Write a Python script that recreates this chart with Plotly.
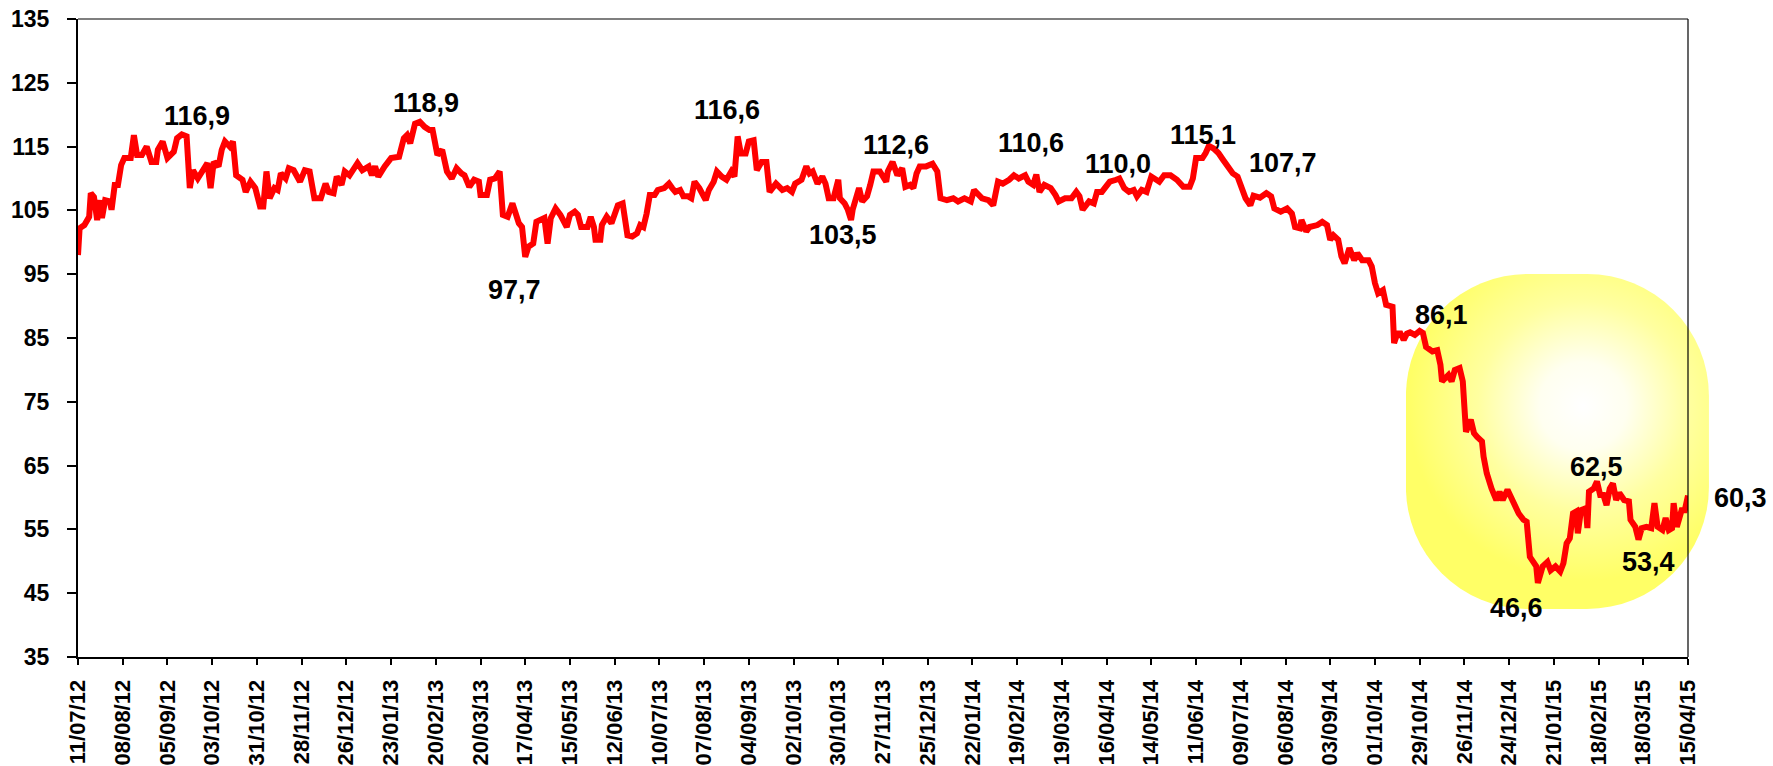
import base64
import pandas as pd
import plotly.graph_objects as go

# Brent crude (USD/bbl).
# day = calendar days counted from 11/07/2012, the first tick
START = pd.Timestamp("2012-07-11")

days = [
    0, 1, 4, 7, 8, 10, 12, 14, 15, 17, 20, 21, 23, 25, 27, 29, 33, 35, 37, 40,
    43, 46, 49, 50, 53, 56, 60, 62, 65, 68, 70, 72, 75, 79, 81, 83, 85, 88, 90, 92,
    95, 97, 99, 103, 105, 108, 111, 114, 116, 118, 120, 123, 125, 127, 130, 132, 135, 139, 142, 145,
    148, 152, 155, 157, 160, 162, 165, 167, 170, 175, 178, 182, 184, 186, 188, 192, 196, 201, 204, 206,
    208, 211, 214, 217, 220,
    222, 225, 228, 231, 234, 237, 240, 242, 245, 248, 251, 252, 256, 258, 261, 264, 266, 269, 272, 274,
    276, 278, 280, 282, 285, 287, 290, 292, 294, 296, 299, 302, 306, 308, 311, 313, 315, 319, 321, 323,
    324, 327, 328, 331, 334, 336, 338, 341, 344, 347, 350, 352, 354, 356, 358, 361, 363, 367, 370, 372,
    374, 377, 379, 382, 384, 386, 389, 393, 395, 398, 400, 403, 406, 409, 411, 413, 415, 418, 420, 423,
    425, 428, 431, 433,
    434, 437, 441, 444, 447, 449, 453, 456, 458, 460, 463, 466, 468, 470, 473, 476, 477, 480, 482, 484,
    485, 489, 491, 494, 496, 498, 502, 506, 507, 510, 513, 516, 518, 521, 523, 525, 527, 531, 535, 538,
    540, 544, 548, 551, 555, 559, 561, 564, 566, 570, 573, 576, 579, 583, 586, 589, 593, 595, 598, 600,
    602, 605, 609, 612, 614, 618, 622, 625, 627, 629, 633, 636, 638, 641, 645,
    646, 650, 652, 655, 658, 661, 663, 666, 669, 672, 674, 677, 680, 684, 688, 692, 696, 698, 700, 704,
    706, 708, 711, 714, 717, 720, 723, 726, 729, 731, 734, 736, 740, 742, 744, 747, 749, 753, 757, 760,
    762, 765, 766, 769, 771, 776, 779, 782, 784, 786, 789, 791, 793, 796, 799, 801, 804, 808, 810, 812,
    814, 817, 819, 823, 824, 826,
    828, 830, 832, 834, 837, 840, 842, 844, 848, 851, 853, 854, 858, 860, 862, 865, 867, 868, 869, 872,
    874, 876, 879, 880, 882, 885, 888, 890, 892, 895, 898, 900, 902, 905, 907, 909, 911, 913, 914, 917,
    920, 922, 925, 928, 930, 932, 934, 936, 938, 939, 941, 944, 945, 946, 949, 951, 953, 955, 957, 959,
    961, 963, 965, 968, 971, 972, 975, 977, 979, 982, 985, 987, 989, 992, 994, 996, 998, 999, 1001, 1004,
    1006, 1008,
]

brent = [
    98.0, 102.2, 102.7, 104.0, 107.7, 107.1, 103.5, 106.6, 103.8, 106.6, 106.4, 105.1, 109.0, 109.0, 112.1, 113.2, 113.2, 116.8, 113.7, 113.7,
    115.0, 112.6, 112.6, 114.5, 115.8, 113.2, 114.2, 116.3, 116.9, 116.6, 108.5, 111.3, 110.0, 111.9, 112.4, 108.5, 112.6, 111.9, 114.5, 115.8,
    115.0, 115.8, 110.5, 109.8, 107.9, 109.5, 108.5, 105.6, 105.6, 111.1, 106.9, 108.5, 108.2, 110.8, 110.0, 111.6, 111.3, 109.5, 111.3, 111.1,
    106.9, 106.9, 109.2, 107.9, 107.7, 110.3, 109.0, 111.1, 110.5, 112.4, 111.3, 111.9, 110.5, 111.9, 110.3, 111.9, 113.2, 113.4, 116.3, 116.8,
    115.5, 118.6, 118.9, 118.1, 117.6,
    117.6, 113.7, 114.5, 111.1, 110.0, 111.6, 110.8, 110.5, 108.7, 109.8, 109.5, 107.4, 107.4, 109.8, 110.0, 111.1, 104.3, 104.0, 106.1, 104.3,
    103.0, 102.4, 97.7, 99.3, 99.8, 103.2, 103.5, 103.8, 99.8, 103.8, 105.3, 104.3, 102.4, 104.3, 104.8, 104.3, 102.4, 102.4, 104.0, 102.4,
    100.4, 100.4, 102.7, 104.0, 103.0, 104.8, 105.8, 106.1, 101.1, 100.9, 101.4, 102.7, 102.4, 104.5, 107.4, 107.4, 108.2, 108.5, 109.2, 108.5,
    107.9, 108.2, 107.2, 107.2, 106.9, 109.5, 108.5, 106.6, 108.2, 109.5, 111.1, 110.3, 109.8, 111.1, 110.3, 116.6, 113.9, 113.9, 115.8, 116.0,
    111.3, 112.6, 112.6, 107.9,
    108.2, 109.2, 108.2, 108.5, 107.9, 109.2, 109.8, 111.9, 110.8, 111.1, 109.2, 110.3, 109.2, 106.9, 106.9, 109.8, 106.9, 106.1, 105.1, 103.5,
    105.1, 108.5, 106.4, 107.2, 109.0, 111.1, 111.1, 109.5, 111.1, 112.6, 110.5, 111.6, 108.7, 109.0, 108.5, 110.8, 111.9, 111.9, 112.3, 111.1,
    106.9, 106.6, 106.9, 106.4, 106.9, 106.4, 108.2, 107.2, 106.9, 106.6, 105.8, 109.5, 109.2, 109.8, 110.5, 110.0, 110.5, 109.5, 109.0, 110.6,
    107.9, 109.0, 108.5, 107.4, 106.4, 106.9, 106.9, 107.9, 107.2, 105.1, 106.4, 106.1, 107.9, 107.9, 109.5,
    109.5, 109.8, 110.0, 108.5, 107.9, 108.2, 107.2, 108.2, 107.9, 110.3, 110.0, 109.5, 110.5, 110.5, 109.8, 108.7, 108.7, 110.0, 113.2, 113.2,
    114.0, 115.1, 114.7, 114.0, 112.9, 111.9, 110.8, 110.3, 107.9, 106.9, 105.8, 107.3, 107.0, 107.5, 107.7, 107.2, 105.3, 104.8, 105.3, 104.5,
    102.4, 102.2, 103.5, 101.7, 102.4, 102.7, 103.2, 102.7, 100.4, 101.1, 100.4, 97.8, 96.7, 99.1, 97.2, 98.3, 97.2, 97.2, 96.2, 93.6,
    92.0, 92.5, 90.2, 89.9, 84.2, 85.7,
    85.7, 84.7, 85.7, 85.9, 85.5, 86.1, 85.8, 83.6, 82.9, 83.1, 80.8, 78.2, 79.2, 78.2, 80.0, 80.3, 78.2, 74.2, 70.3, 72.2,
    70.1, 69.5, 68.8, 66.4, 63.8, 61.4, 59.6, 60.9, 59.6, 61.2, 59.4, 58.8, 57.5, 56.5, 56.2, 50.7, 49.9, 49.2, 46.6, 49.2,
    49.9, 48.6, 49.2, 48.4, 49.7, 52.8, 53.6, 57.5, 57.8, 54.4, 58.0, 58.3, 55.2, 60.9, 61.4, 62.5, 60.4, 60.4, 58.8, 61.4,
    62.2, 59.6, 60.7, 59.6, 59.4, 56.5, 55.4, 53.4, 55.2, 55.4, 55.2, 59.1, 55.4, 54.9, 56.8, 54.9, 55.2, 59.1, 55.4, 58.0,
    58.0, 60.3,
]
assert len(days) == len(brent)

tick_labels = [
    "11/07/12", "08/08/12", "05/09/12", "03/10/12", "31/10/12", "28/11/12", "26/12/12",
    "23/01/13", "20/02/13", "20/03/13", "17/04/13", "15/05/13", "12/06/13", "10/07/13",
    "07/08/13", "04/09/13", "02/10/13", "30/10/13", "27/11/13", "25/12/13", "22/01/14",
    "19/02/14", "19/03/14", "16/04/14", "14/05/14", "11/06/14", "09/07/14", "06/08/14",
    "03/09/14", "01/10/14", "29/10/14", "26/11/14", "24/12/14", "21/01/15", "18/02/15",
    "18/03/15", "15/04/15",
]

# labelled highs / lows
peak_labels = ["116,9", "118,9", "97,7", "116,6", "103,5", "112,6", "110,6", "110,0",
               "115,1", "107,7", "86,1", "62,5", "60,3", "53,4", "46,6"]
peak_days = [65, 214, 280, 413, 484, 510, 600, 652, 708, 744, 840, 951, 1008, 977, 914]
peak_values = [116.9, 118.9, 97.7, 116.6, 103.5, 112.6, 110.6, 110.0,
               115.1, 107.7, 86.1, 62.5, 60.3, 53.4, 46.6]

# where each label sits relative to its point, in pixels
label_dx = [15, 6, -11, -11, -8, 3, -5, -1, -6, 17, 22, 0, 52, 10, -21]
label_dy = [18, 19, -33, 26, -15, 17, 32, 15, 11, 30, 16, 15, -2, -22, -25]

dates = START + pd.to_timedelta(days, unit="D")
tick_dates = pd.to_datetime(tick_labels, format="%d/%m/%y")
peak_dates = START + pd.to_timedelta(peak_days, unit="D")

FONT = "Liberation Sans, Arial, sans-serif"

fig = go.Figure()

fig.add_trace(go.Scatter(
    x=dates, y=brent,
    mode="lines",
    line=dict(color="#ff0000", width=6),
    hoverinfo="x+y",
))

for txt, d, v, dx, dy in zip(peak_labels, peak_dates, peak_values, label_dx, label_dy):
    fig.add_annotation(
        x=d, y=v, text=txt, showarrow=False,
        xshift=dx, yshift=dy,
        font=dict(family=FONT, size=27, color="black", weight="bold"),
    )

# yellow glow behind the 2014-15 collapse (radial gradient, rounded box)
svg = (
    '<svg xmlns="http://www.w3.org/2000/svg" width="303" height="335" viewBox="0 0 303 335">'
    '<defs><radialGradient id="g" gradientUnits="userSpaceOnUse" cx="177" cy="132" r="175">'
    '<stop offset="0" stop-color="#ffffff"/>'
    '<stop offset="0.25" stop-color="#fffff0"/>'
    '<stop offset="0.6" stop-color="#ffffa0"/>'
    '<stop offset="1" stop-color="#ffff66"/>'
    '</radialGradient></defs>'
    '<rect x="0" y="0" width="303" height="335" rx="122" ry="122" fill="url(#g)"/></svg>'
)
svg_uri = "data:image/svg+xml;base64," + base64.b64encode(svg.encode()).decode()
fig.add_layout_image(
    source=svg_uri, xref="paper", yref="paper",
    x=0.8248, y=0.6003, sizex=0.1882, sizey=0.525,
    xanchor="left", yanchor="top", sizing="stretch", layer="below",
)

# thin frame on top and right
fig.add_shape(type="line", xref="paper", yref="paper", x0=0, x1=1, y0=1, y1=1,
              line=dict(color="black", width=1.2))
fig.add_shape(type="line", xref="paper", yref="paper", x0=1, x1=1, y0=0, y1=1,
              line=dict(color="black", width=1.2))

fig.update_layout(
    width=1773, height=766,
    margin=dict(l=78, r=85, t=19, b=109),
    plot_bgcolor="white", paper_bgcolor="white",
    showlegend=False,
    font=dict(family=FONT, color="black"),
)

fig.update_xaxes(
    type="date",
    range=[tick_dates[0], tick_dates[-1]],
    tickmode="array", tickvals=tick_dates, ticktext=tick_labels,
    tickangle=-90,
    ticks="outside", ticklen=6, tickwidth=1.5, tickcolor="black",
    showline=True, linecolor="black", linewidth=2,
    showgrid=False, zeroline=False, automargin=False,
    tickfont=dict(family=FONT, size=22, color="black", weight="bold"),
    ticklabelstandoff=6,
)

fig.update_yaxes(
    range=[35, 135], tick0=35, dtick=10,
    ticks="outside", ticklen=9, tickwidth=2, tickcolor="black",
    showline=True, linecolor="black", linewidth=2,
    showgrid=False, zeroline=False, automargin=False,
    tickfont=dict(family=FONT, size=23, color="black", weight="bold"),
    ticklabelstandoff=13,
)

# the page body has a default 8px margin; drop it so the figure fills the window
fig.write_html("out.html",
               config={"displayModeBar": False},
               post_script="document.body.style.margin='0';document.body.style.overflow='hidden';")
